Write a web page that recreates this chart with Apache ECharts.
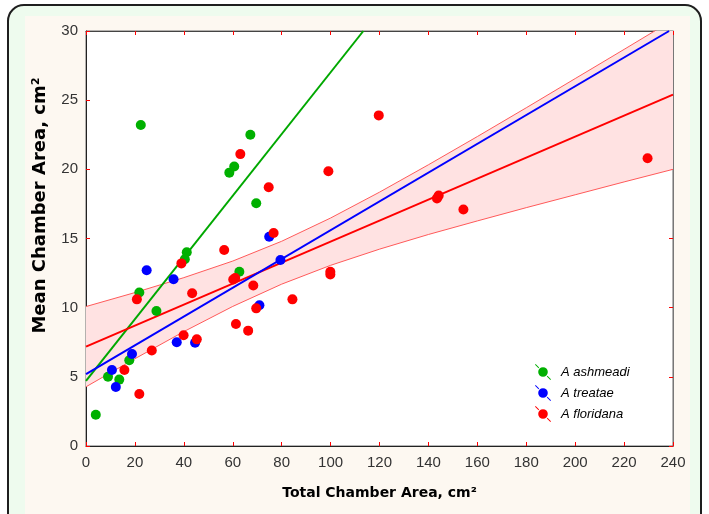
<!DOCTYPE html>
<html>
<head>
<meta charset="utf-8">
<script src="https://cdn.jsdelivr.net/npm/echarts@6/dist/echarts.min.js"></script>
<style>
html,body{margin:0;padding:0;background:#ffffff;}
#chart{width:709px;height:514px;}
</style>
</head>
<body>
<div id="chart"></div>
<script>
// ---- data ----
var xTicks = [0, 20, 40, 60, 80, 100, 120, 140, 160, 180, 200, 220, 240];
var yTicks = [0, 5, 10, 15, 20, 25, 30];

var seriesNames = ['A ashmeadi', 'A treatae', 'A floridana'];

var greenX = [4.0, 9.0, 13.6, 17.7, 21.8, 22.4, 28.8, 40.4, 41.2, 58.6, 60.6, 62.7, 67.2, 69.6];
var greenY = [2.26, 5.0, 4.8, 6.2, 11.1, 23.2, 9.76, 13.5, 14.0, 19.76, 20.2, 12.6, 22.5, 17.55];

var blueX = [10.6, 12.2, 18.8, 24.8, 35.8, 37.1, 44.6, 70.9, 74.9, 79.5];
var blueY = [5.5, 4.26, 6.65, 12.7, 12.05, 7.5, 7.47, 10.17, 15.13, 13.45];

var redX = [15.7, 21.8, 20.8, 26.9, 39.0, 39.9, 43.4, 45.3, 56.5, 60.2, 61.0, 61.3, 63.1, 66.3, 68.4, 69.6, 74.7, 76.7, 84.4, 99.1, 99.9, 99.9, 119.7, 143.5, 144.2, 154.3, 229.6];
var redY = [5.5, 3.76, 10.6, 6.9, 13.2, 8.0, 11.04, 7.71, 14.17, 12.04, 12.14, 8.82, 21.1, 8.34, 11.6, 9.95, 18.7, 15.4, 10.6, 19.86, 12.6, 12.4, 23.9, 17.9, 18.1, 17.1, 20.8];

// fitted lines (end points)
var greenFitX = [0, 113.4];
var greenFitY = [4.7, 30];
var blueFitX = [0, 238.4];
var blueFitY = [5.2, 30];
var redFitX = [0, 240];
var redFitY = [7.18, 25.4];

// confidence band of the A floridana fit
var bandX = [0, 20, 40, 60, 80, 100, 120, 140, 160, 180, 200, 220, 240];
var bandUpper = [10.08, 11.09, 12.17, 13.37, 14.80, 16.48, 18.35, 20.33, 22.37, 24.45, 26.56, 28.67, 30.8];
var bandLower = [4.28, 6.31, 8.27, 10.09, 11.70, 13.06, 14.23, 15.29, 16.27, 17.23, 18.16, 19.09, 20.0];

function pairs(xs, ys) {
  var out = [];
  for (var i = 0; i < xs.length; i++) out.push([xs[i], ys[i]]);
  return out;
}

var GREEN = '#00b000', BLUE = '#0000ff', RED = '#ff0000';
var LEGEND_ICON = 'path://M0,0.8 L0.8,0 L5.2,4.4 L4.4,5.2 Z M15.6,14.8 L14.8,15.6 L19.2,20 L20,19.2 Z M4,10 A6,6 0 1,0 16,10 A6,6 0 1,0 4,10 Z';
var FONT = '"Liberation Sans", Arial, sans-serif';
var TITLE_FONT = '"DejaVu Sans", "Liberation Sans", Arial, sans-serif';

var chart = echarts.init(document.getElementById('chart'), null, {renderer: 'canvas'});

var option = {
  animation: false,
  backgroundColor: '#ffffff',
  graphic: [
    {type: 'rect', z: -10, shape: {x: 8, y: 5, width: 693, height: 540, r: 16},
     style: {fill: '#eefbee', stroke: '#1e1e1e', lineWidth: 2}},
    {type: 'rect', z: -9, shape: {x: 25, y: 16, width: 665, height: 520},
     style: {fill: '#fdf8f1', stroke: null}}
  ],
  grid: {left: 86, top: 31, right: 36, bottom: 68, show: true, backgroundColor: '#ffffff',
         borderColor: '#6a6a6a', borderWidth: 1},
  legend: {
    data: seriesNames,
    orient: 'vertical',
    left: 530, top: 359,
    itemWidth: 16, itemHeight: 16, itemGap: 5,
    icon: LEGEND_ICON,
    textStyle: {fontFamily: FONT, fontStyle: 'italic', fontSize: 13, color: '#000', padding: [0, 0, 0, 5]}
  },
  xAxis: [{
    type: 'value', min: 0, max: 240, interval: 20, position: 'bottom',
    name: 'Total Chamber Area, cm\u00B2', nameLocation: 'middle', nameGap: 40,
    nameTextStyle: {fontFamily: TITLE_FONT, fontWeight: 'bold', fontSize: 14, color: '#000'},
    axisLine: {show: true, onZero: false, lineStyle: {color: '#222', width: 1}},
    axisTick: {show: true, inside: true, length: 4, lineStyle: {color: RED}},
    axisLabel: {fontFamily: FONT, fontSize: 15, color: '#333', margin: 9,
      formatter: function (v) { return xTicks.indexOf(v) >= 0 ? String(v) : ''; }},
    splitLine: {show: false}
  }, {
    type: 'value', min: 0, max: 240, interval: 20, position: 'top',
    axisLine: {show: true, onZero: false, lineStyle: {color: '#444', width: 1}},
    axisTick: {show: true, inside: true, length: 4, lineStyle: {color: RED}},
    axisLabel: {show: false}, splitLine: {show: false}
  }],
  yAxis: [{
    type: 'value', min: 0, max: 30, interval: 5, position: 'left',
    name: 'Mean Chamber Area, cm\u00B2', nameLocation: 'middle', nameGap: 37, nameRotate: 90,
    nameTextStyle: {fontFamily: TITLE_FONT, fontWeight: 'bold', fontSize: 18, color: '#000', padding: [0, 0, 0, 66]},
    axisLine: {show: true, onZero: false, lineStyle: {color: '#222', width: 1}},
    axisTick: {show: true, inside: true, length: 4, lineStyle: {color: RED}},
    axisLabel: {fontFamily: FONT, fontSize: 15, color: '#333', margin: 8,
      formatter: function (v) { return yTicks.indexOf(v) >= 0 ? String(v) : ''; }},
    splitLine: {show: false}
  }, {
    type: 'value', min: 0, max: 30, interval: 5, position: 'right',
    axisLine: {show: true, onZero: false, lineStyle: {color: '#777', width: 1}},
    axisTick: {show: true, inside: true, length: 4, lineStyle: {color: RED}},
    axisLabel: {show: false}, splitLine: {show: false}
  }],
  series: [
    {
      type: 'custom', name: 'band', z: 1, silent: true, clip: true,
      xAxisIndex: 0, yAxisIndex: 0,
      data: [[0, 0]],
      renderItem: function (params, api) {
        var pts = [];
        for (var i = 0; i < bandX.length; i++) pts.push(api.coord([bandX[i], bandUpper[i]]));
        for (var j = bandX.length - 1; j >= 0; j--) pts.push(api.coord([bandX[j], bandLower[j]]));
        var cs = params.coordSys;
        return {
          type: 'group',
          children: [{type: 'polygon', shape: {points: pts}, style: {fill: '#ffe2e2', stroke: null}}],
          clipPath: {type: 'rect', shape: {x: cs.x, y: cs.y, width: cs.width, height: cs.height}}
        };
      }
    },
    {type: 'line', name: 'upper', z: 2, silent: true, symbol: 'none', clip: true,
     data: pairs(bandX, bandUpper), lineStyle: {color: '#ff5a5a', width: 1}},
    {type: 'line', name: 'lower', z: 2, silent: true, symbol: 'none', clip: true,
     data: pairs(bandX, bandLower), lineStyle: {color: '#ff5a5a', width: 1}},
    {type: 'line', name: 'green fit', z: 3, silent: true, symbol: 'none',
     data: pairs(greenFitX, greenFitY), lineStyle: {color: '#00a800', width: 2}},
    {type: 'line', name: 'red fit', z: 3, silent: true, symbol: 'none',
     data: pairs(redFitX, redFitY), lineStyle: {color: RED, width: 2}},
    {type: 'line', name: 'blue fit', z: 3, silent: true, symbol: 'none',
     data: pairs(blueFitX, blueFitY), lineStyle: {color: BLUE, width: 2}},
    {type: 'scatter', name: seriesNames[0], z: 4, symbol: 'circle', symbolSize: 10,
     itemStyle: {color: GREEN, opacity: 1}, data: pairs(greenX, greenY)},
    {type: 'scatter', name: seriesNames[1], z: 4, symbol: 'circle', symbolSize: 10,
     itemStyle: {color: BLUE, opacity: 1}, data: pairs(blueX, blueY)},
    {type: 'scatter', name: seriesNames[2], z: 4, symbol: 'circle', symbolSize: 10,
     itemStyle: {color: RED, opacity: 1}, data: pairs(redX, redY)}
  ]
};
chart.setOption(option);
</script>
</body>
</html>
